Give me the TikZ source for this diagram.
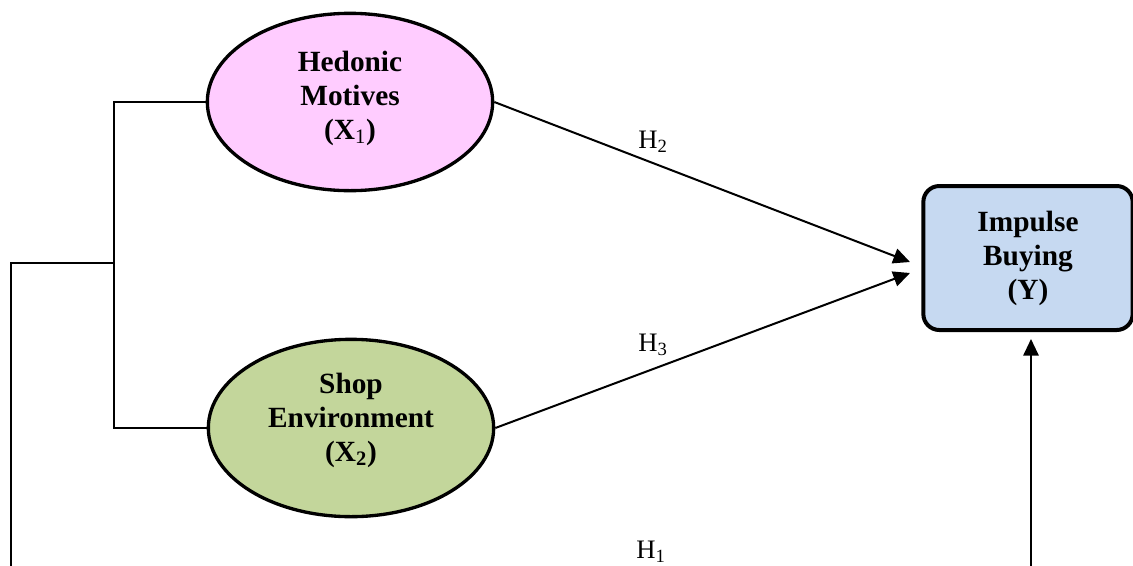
\documentclass[tikz,border=0pt]{standalone}
\usepackage{fontspec}
\setmainfont{Liberation Serif}
\usetikzlibrary{shapes.geometric,arrows.meta}
\definecolor{pinkfill}{HTML}{FFCCFF}
\definecolor{greenfill}{HTML}{C3D69B}
\definecolor{bluefill}{HTML}{C6D9F1}
\tikzset{
  latent/.style={ellipse, draw=black, line width=2.5pt, inner sep=0pt,
    minimum width=214pt, minimum height=133pt},
  ltext/.style={align=center, inner sep=0pt,
    font=\bfseries\fontsize{22}{25.5}\selectfont},
  outcome/.style={rectangle, rounded corners=12pt, draw=black, line width=3pt,
    fill=bluefill, inner sep=0pt, minimum width=157pt, minimum height=108pt,
    align=center, font=\bfseries\fontsize{22}{25.5}\selectfont},
  conn/.style={draw=black, line width=1.5pt},
  arr/.style={conn, -{Triangle[length=12.5pt,width=11.5pt]}},
  hlabel/.style={font=\fontsize{20}{23}\selectfont, inner sep=0pt}
}
\begin{document}
\begin{tikzpicture}[x=0.75pt,y=-0.75pt]
\useasboundingbox (0,0) rectangle (1133,565);
\clip (0,0) rectangle (1133,565);
\fill[white] (0,0) rectangle (1133,565);

\node[latent, fill=pinkfill] (hed) at (350,102) {};
\node[ltext] (hedtxt) at (350,98) {Hedonic\\Motives\\(X\textsubscript{\normalfont 1})};
\node[latent, fill=greenfill] (shop) at (351,428) {};
\node[ltext] (shoptxt) at (351,420) {Shop\\Environment\\(X\textsubscript{2})};
\node[outcome] (box) at (1028,258) {Impulse\\Buying\\(Y)};

\coordinate (t2) at (910,262);
\coordinate (t3) at (910,273);
\coordinate (t1) at (1031,339);
\coordinate (jx) at (114,263);
\coordinate (lft) at (11,263);
\coordinate (bot) at (11,600);

\draw[arr] (hed.east) -- (t2);
\draw[arr] (shop.east) -- (t3);
\draw[conn] (hed.west) -| (jx) |- (shop.west);
\draw[arr] (jx) -- (lft) -- (bot) -| (t1);

\node[hlabel] (h2) at (653,142) {H\textsubscript{2}};
\node[hlabel] (h3) at (653,345) {H\textsubscript{3}};
\node[hlabel] (h1) at (651,552) {H\textsubscript{1}};
\end{tikzpicture}
\end{document}
